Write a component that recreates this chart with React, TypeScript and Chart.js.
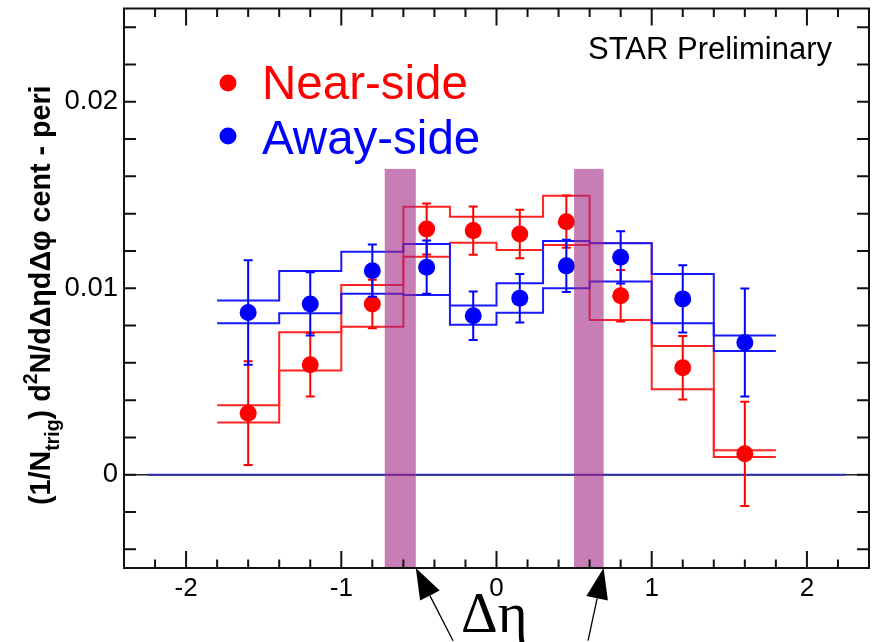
import React, { useEffect, useRef } from "react";
import { Chart, registerables } from "chart.js";

Chart.register(...registerables);

// ---------- data ----------
const binEdges = [-1.8, -1.4, -1.0, -0.6, -0.3, 0.0, 0.3, 0.6, 1.0, 1.4, 1.8];
const binCenters = [-1.6, -1.2, -0.8, -0.45, -0.15, 0.15, 0.45, 0.8, 1.2, 1.6];

const nearValues = [0.0033, 0.0059, 0.00916, 0.01318, 0.01309, 0.01291, 0.01357, 0.0096, 0.00574, 0.00112];
const nearErrors = [0.00278, 0.0017, 0.0013, 0.00137, 0.0013, 0.0013, 0.0014, 0.00138, 0.0017, 0.0028];
const nearSysHigh = [0.00373, 0.00764, 0.01018, 0.01437, 0.01384, 0.01384, 0.01496, 0.01242, 0.00691, 0.00132];
const nearSysLow = [0.0028, 0.00559, 0.00794, 0.01169, 0.01244, 0.01205, 0.01232, 0.0083, 0.00459, 0.00095];

const awayValues = [0.0087, 0.00916, 0.01094, 0.01113, 0.00853, 0.00947, 0.0112, 0.01166, 0.00943, 0.00709];
const awayErrors = [0.0028, 0.0017, 0.0014, 0.00143, 0.0013, 0.0013, 0.0014, 0.0014, 0.0018, 0.0029];
const awaySysHigh = [0.00934, 0.01093, 0.01196, 0.01237, 0.00907, 0.01027, 0.01254, 0.01241, 0.01077, 0.00746];
const awaySysLow = [0.00813, 0.00866, 0.0097, 0.00964, 0.00804, 0.00869, 0.01, 0.01036, 0.00813, 0.00664];

const bandRanges: [number, number][] = [[-0.72, -0.52], [0.5, 0.69]];
const bandTop = 0.0164;

const xTickLabels = [-2, -1, 0, 1, 2];
const yTickLabels = [0, 0.01, 0.02];

const seriesNames = ["Near-side", "Away-side"];
const yTitleParts = ["(1/N", "trig", ") d", "2", "N/d\u0394\u03b7d\u0394\u03c6 cent - peri"];
const watermark = "STAR Preliminary";
const annotationText = "\u0394\u03b7";
// arrow tips/tails in data units (tail lies below the plot)
const arrowTips: [number, number][] = [[-0.52, -0.005], [0.69, -0.005]];
const arrowTails: [number, number][] = [[-0.28, -0.0089], [0.59, -0.0089]];

const RED = "#ff0000";
const RED_LINE = "rgb(255,35,35)";
const BLUE = "#0000ff";
const BLUE_LINE = "rgb(25,25,255)";

function steps(vals: number[]) {
  const pts: { x: number; y: number }[] = [];
  vals.forEach((v, i) => {
    pts.push({ x: binEdges[i], y: v });
    pts.push({ x: binEdges[i + 1], y: v });
  });
  return pts;
}

function pts(xs: number[], ys: number[]) {
  return xs.map((x, i) => ({ x, y: ys[i] }));
}

const SANS = "'Liberation Sans', Arial, sans-serif";

const decorPlugin = {
  id: "decor",
  afterDatasetsDraw(chart: any) {
    const { ctx, chartArea } = chart;
    const xs = chart.scales.x;
    const ys = chart.scales.y;
    ctx.save();
    // error bars
    const drawErr = (vals: number[], errs: number[], color: string) => {
      ctx.strokeStyle = color;
      ctx.lineWidth = 2;
      vals.forEach((v, i) => {
        const px = xs.getPixelForValue(binCenters[i]);
        const top = ys.getPixelForValue(v + errs[i]);
        const bot = ys.getPixelForValue(v - errs[i]);
        ctx.beginPath();
        ctx.moveTo(px, top);
        ctx.lineTo(px, bot);
        ctx.moveTo(px - 4.5, top);
        ctx.lineTo(px + 4.5, top);
        ctx.moveTo(px - 4.5, bot);
        ctx.lineTo(px + 4.5, bot);
        ctx.stroke();
      });
    };
    drawErr(nearValues, nearErrors, RED);
    drawErr(awayValues, awayErrors, BLUE);

    // purple bands
    ctx.fillStyle = "rgba(160,40,130,0.6)";
    bandRanges.forEach(([a, b]) => {
      const x0 = xs.getPixelForValue(a);
      const x1 = xs.getPixelForValue(b);
      const y0 = ys.getPixelForValue(bandTop);
      ctx.fillRect(x0, y0, x1 - x0, chartArea.bottom - y0);
    });
    ctx.restore();
  },
  afterDraw(chart: any) {
    const { ctx, chartArea } = chart;
    const xs = chart.scales.x;
    const ys = chart.scales.y;
    const { left, right, top, bottom } = chartArea;
    ctx.save();
    // frame
    ctx.strokeStyle = "#111";
    ctx.lineWidth = 2;
    ctx.strokeRect(left, top, right - left, bottom - top);
    // x ticks
    ctx.beginPath();
    for (let k = -12; k <= 12; k++) {
      const v = k * 0.2;
      const px = xs.getPixelForValue(v);
      if (px <= left + 1 || px >= right - 1) continue;
      const major = k % 5 === 0;
      const len = major ? 17 : 8.5;
      ctx.moveTo(px, bottom);
      ctx.lineTo(px, bottom - len);
      ctx.moveTo(px, top);
      ctx.lineTo(px, top + (major ? 17 : 8.5));
    }
    // y ticks
    for (let k = -2; k <= 12; k++) {
      const v = k * 0.002;
      const py = ys.getPixelForValue(v);
      if (py <= top + 1 || py >= bottom - 1) continue;
      ctx.moveTo(left, py);
      ctx.lineTo(left + 12, py);
      ctx.moveTo(right, py);
      ctx.lineTo(right - 12, py);
    }
    ctx.stroke();

    // y title
    ctx.save();
    ctx.translate(50, 505);
    ctx.rotate(-Math.PI / 2);
    ctx.fillStyle = "#000";
    ctx.textBaseline = "alphabetic";
    ctx.textAlign = "left";
    let cx = 0;
    const big = "bold 28.7px " + SANS;
    const small = "bold 19.5px " + SANS;
    const partStyle = [
      { f: big, dy: 0 },
      { f: small, dy: 9 },
      { f: big, dy: 0 },
      { f: small, dy: -13 },
      { f: big, dy: 0 },
    ];
    yTitleParts.forEach((t, i) => {
      ctx.font = partStyle[i].f;
      ctx.fillText(t, cx, partStyle[i].dy);
      cx += ctx.measureText(t).width;
    });
    ctx.restore();

    // legend
    const legendColors = [RED, BLUE];
    const legendY = [99, 154];
    const dotY = [83, 136];
    seriesNames.forEach((name, i) => {
      ctx.fillStyle = legendColors[i];
      ctx.beginPath();
      ctx.arc(228, dotY[i], 8.5, 0, Math.PI * 2);
      ctx.fill();
      ctx.font = "47.5px " + SANS;
      ctx.textAlign = "left";
      ctx.textBaseline = "alphabetic";
      ctx.fillText(name, 262, legendY[i]);
    });

    // watermark
    ctx.fillStyle = "#000";
    ctx.font = "31px " + SANS;
    ctx.textAlign = "right";
    ctx.fillText(watermark, 832, 59);

    // Delta eta annotation
    ctx.textAlign = "left";
    ctx.font = "57px 'Liberation Serif', 'DejaVu Serif', serif";
    ctx.fillText(annotationText, 461, 632);

    // arrows
    ctx.strokeStyle = "#000";
    ctx.fillStyle = "#000";
    ctx.lineWidth = 1.3;
    arrowTips.forEach((tip, i) => {
      const tx = xs.getPixelForValue(tip[0]);
      const ty = ys.getPixelForValue(tip[1]);
      const sx = xs.getPixelForValue(arrowTails[i][0]);
      const sy = ys.getPixelForValue(arrowTails[i][1]);
      const dx = tx - sx;
      const dy = ty - sy;
      const L = Math.hypot(dx, dy);
      const ux = dx / L;
      const uy = dy / L;
      const hl = 31;
      const hw = 11;
      const bx = tx - ux * hl;
      const by = ty - uy * hl;
      ctx.beginPath();
      ctx.moveTo(sx, sy);
      ctx.lineTo(bx, by);
      ctx.stroke();
      ctx.beginPath();
      ctx.moveTo(tx, ty);
      ctx.lineTo(bx - uy * hw, by + ux * hw);
      ctx.lineTo(bx + uy * hw, by - ux * hw);
      ctx.closePath();
      ctx.fill();
    });
    ctx.restore();
  },
};

export default function App() {
  const ref = useRef<HTMLCanvasElement | null>(null);

  useEffect(() => {
    if (!ref.current) return;
    const stepBase = {
      type: "line" as const,
      showLine: true,
      borderWidth: 2,
      pointRadius: 0,
      fill: false,
      tension: 0,
    };
    const chart = new Chart(ref.current, {
      type: "scatter",
      data: {
        datasets: [
          {
            label: "Away-side",
            data: pts(binCenters, awayValues),
            backgroundColor: BLUE,
            borderColor: BLUE,
            pointRadius: 8.5,
            pointBorderWidth: 0,
            order: 1,
          },
          {
            label: "Near-side",
            data: pts(binCenters, nearValues),
            backgroundColor: RED,
            borderColor: RED,
            pointRadius: 8.5,
            pointBorderWidth: 0,
            order: 2,
          },
          { ...stepBase, label: "away hi", data: steps(awaySysHigh), borderColor: BLUE_LINE, order: 3 },
          { ...stepBase, label: "away lo", data: steps(awaySysLow), borderColor: BLUE_LINE, order: 3 },
          { ...stepBase, label: "near hi", data: steps(nearSysHigh), borderColor: RED_LINE, order: 4 },
          { ...stepBase, label: "near lo", data: steps(nearSysLow), borderColor: RED_LINE, order: 4 },
          {
            ...stepBase,
            label: "zero",
            data: [{ x: -2.25, y: 0 }, { x: 2.25, y: 0 }],
            borderColor: "rgb(45,45,175)",
            order: 5,
          },
          {
            ...stepBase,
            label: "zero base",
            data: [{ x: -2.4, y: 0 }, { x: 2.4, y: 0 }],
            borderColor: "#222",
            borderWidth: 1.5,
            order: 6,
          },
        ] as any,
      },
      options: {
        animation: false,
        responsive: false,
        maintainAspectRatio: false,
        layout: { padding: { top: 8, right: 9, left: 0, bottom: 0 } },
        plugins: { legend: { display: false }, tooltip: { enabled: false } },
        scales: {
          x: {
            type: "linear",
            min: -2.4,
            max: 2.4,
            grid: { display: false, drawTicks: false },
            border: { display: false },
            afterBuildTicks: (s: any) => {
              s.ticks = xTickLabels.map((v) => ({ value: v }));
            },
            afterFit: (s: any) => {
              s.height = 74;
              s.paddingLeft = 0;
              s.paddingRight = 0;
            },
            ticks: {
              color: "#000",
              padding: 5,
              maxRotation: 0,
              autoSkip: false,
              font: { family: SANS, size: 26 },
              callback: (v: any) => String(v),
            },
          },
          y: {
            type: "linear",
            min: -0.005,
            max: 0.025,
            grid: { display: false, drawTicks: false },
            border: { display: false },
            afterBuildTicks: (s: any) => {
              s.ticks = yTickLabels.map((v) => ({ value: v }));
            },
            afterFit: (s: any) => {
              s.width = 124;
              s.paddingTop = 0;
              s.paddingBottom = 0;
            },
            ticks: {
              color: "#000",
              padding: 6,
              autoSkip: false,
              font: { family: SANS, size: 27.5 },
              callback: (v: any) => (v === 0 ? "0" : String(Number(v).toFixed(2))),
            },
          },
        },
      } as any,
      plugins: [decorPlugin],
    });
    return () => chart.destroy();
  }, []);

  return (
    <div style={{ position: "absolute", left: 0, top: 0, width: 878, height: 642, background: "#fff" }}>
      <canvas ref={ref} width={878} height={642} style={{ width: 878, height: 642, display: "block" }} />
    </div>
  );
}
